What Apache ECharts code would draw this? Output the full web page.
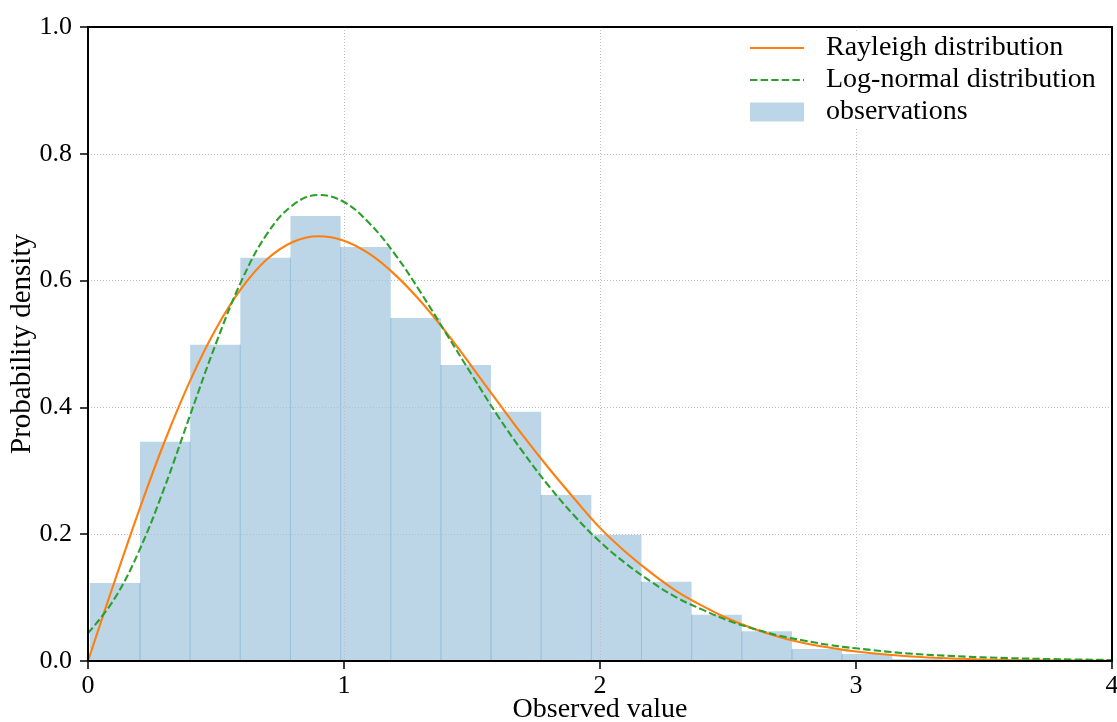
<!DOCTYPE html>
<html>
<head>
<meta charset="utf-8">
<script src="https://cdn.jsdelivr.net/npm/echarts@6/dist/echarts.min.js"></script>
<style>
html,body{margin:0;padding:0;background:#fff;}
#chart{width:1117px;height:722px;}
</style>
</head>
<body>
<div id="chart"></div>
<script>
// ---- data ----
const binEdges = [0.0072, 0.2031, 0.3990, 0.5949, 0.7908, 0.9867, 1.1826, 1.3785, 1.5744, 1.7703, 1.9662, 2.1621, 2.3580, 2.5539, 2.7498, 2.9457, 3.1416, 3.3375];
const densities = [0.123, 0.346, 0.499, 0.636, 0.702, 0.653, 0.541, 0.467, 0.393, 0.262, 0.199, 0.125, 0.073, 0.047, 0.019, 0.011, 0.003];

const curveX = [0.0,0.1,0.2,0.3,0.4,0.5,0.6,0.7,0.8,0.9,1.0,1.1,1.2,1.3,1.4,1.5,1.6,1.7,1.8,1.9,2.0,2.1,2.2,2.3,2.4,2.5,2.6,2.7,2.8,2.9,3.0,3.2,3.4,3.6,3.8,4.0];
const rayleigh = [0.000,0.121,0.238,0.347,0.443,0.524,0.588,0.634,0.661,0.670,0.663,0.642,0.609,0.567,0.518,0.464,0.409,0.355,0.304,0.256,0.210,0.172,0.139,0.110,0.087,0.067,0.051,0.038,0.028,0.021,0.015,0.0075,0.0036,0.0016,0.0007,0.0003];
const lognormal = [0.044,0.096,0.174,0.275,0.389,0.501,0.600,0.674,0.719,0.735,0.724,0.690,0.641,0.581,0.516,0.451,0.387,0.329,0.276,0.229,0.188,0.154,0.125,0.100,0.081,0.064,0.051,0.040,0.032,0.025,0.020,0.012,0.0074,0.0045,0.0027,0.0016];

const seriesNames = ['Rayleigh distribution', 'Log-normal distribution', 'observations'];
const xLabel = 'Observed value';
const yLabel = 'Probability density';

// ---- build ----
const FONT = 'Liberation Serif';
const histData = densities.map((d, i) => [binEdges[i], binEdges[i + 1], d, i > 0 ? Math.min(d, densities[i - 1]) : 0]);
const pairs = arr => curveX.map((x, i) => [x, arr[i]]);
const hiddenSymbol = {color: 'rgba(0,0,0,0)', borderColor: 'rgba(0,0,0,0)', borderWidth: 0, opacity: 0};
const gridStyle = {color: '#bdbdbd', width: 1, type: [1, 2]};
const spine = {show: true, onZero: false, lineStyle: {color: '#000', width: 2}};
const spineOnly = {axisLine: spine, axisTick: {show: false}, axisLabel: {show: false}, splitLine: {show: false}, z: 10};

const chart = echarts.init(document.getElementById('chart'), null, {renderer: 'canvas'});
chart.setOption({
  animation: false,
  backgroundColor: '#fff',
  textStyle: {fontFamily: FONT, color: '#000'},
  grid: {left: 88, right: 5, top: 27, bottom: 61, outerBoundsMode: 'none', containLabel: false, show: false},
  legend: {
    orient: 'vertical',
    left: 741, top: 31,
    padding: [3, 8, 3, 8],
    backgroundColor: '#fff',
    itemWidth: 54, itemHeight: 19, itemGap: 4,
    textStyle: {fontFamily: FONT, fontSize: 28, color: '#000', lineHeight: 28, padding: [0, 0, 0, 17]},
    data: [
      {name: seriesNames[0], itemStyle: hiddenSymbol, lineStyle: {color: '#ff7f0e', width: 2, opacity: 1}},
      {name: seriesNames[1], itemStyle: hiddenSymbol, lineStyle: {color: '#2ca02c', width: 2, opacity: 1, type: [7.4, 3.2]}},
      {name: seriesNames[2], icon: 'rect'}
    ]
  },
  xAxis: [{
    type: 'value', min: 0, max: 4, interval: 1, z: 2,
    name: xLabel, nameLocation: 'middle', nameGap: 35, nameMoveOverlap: false,
    nameTextStyle: {fontFamily: FONT, fontSize: 28, color: '#000', verticalAlign: 'top'},
    axisLine: spine,
    axisTick: {show: true, length: 8, lineStyle: {color: '#000', width: 1.5}},
    axisLabel: {fontFamily: FONT, fontSize: 26, color: '#000', margin: 12},
    splitLine: {show: true, lineStyle: gridStyle}
  }, Object.assign({type: 'value', min: 0, max: 4, interval: 1, position: 'bottom'}, spineOnly),
     Object.assign({type: 'value', min: 0, max: 4, interval: 1, position: 'top'}, spineOnly)],
  yAxis: [{
    type: 'value', min: 0, max: 1, interval: 0.2, z: 2,
    name: yLabel, nameLocation: 'middle', nameGap: 51, nameRotate: 90, nameMoveOverlap: false,
    nameTextStyle: {fontFamily: FONT, fontSize: 29, color: '#000'},
    axisLine: spine,
    axisTick: {show: true, length: 8, lineStyle: {color: '#000', width: 1.5}},
    axisLabel: {fontFamily: FONT, fontSize: 26, color: '#000', margin: 16, formatter: v => v.toFixed(1)},
    splitLine: {show: true, lineStyle: gridStyle}
  }, Object.assign({type: 'value', min: 0, max: 1, interval: 0.2, position: 'left'}, spineOnly),
     Object.assign({type: 'value', min: 0, max: 1, interval: 0.2, position: 'right'}, spineOnly)],
  series: [
    {
      name: seriesNames[2],
      type: 'custom',
      z: 1,
      itemStyle: {color: '#bcd6e8'},
      data: histData,
      renderItem: function (params, api) {
        const p0 = api.coord([api.value(0), 0]);
        const p1 = api.coord([api.value(1), api.value(2)]);
        const pl = api.coord([api.value(0), api.value(3)]);
        const children = [{
          type: 'rect',
          shape: {x: p0[0], y: p1[1], width: p1[0] - p0[0], height: p0[1] - p1[1]},
          style: {fill: '#bcd6e8'}
        }];
        if (params.dataIndex > 0) {
          children.push({
            type: 'line',
            shape: {x1: p0[0], y1: p0[1], x2: p0[0], y2: pl[1]},
            style: {stroke: 'rgba(31,119,180,0.3)', lineWidth: 1}
          });
        }
        return {type: 'group', children: children};
      }
    },
    {
      name: seriesNames[0],
      type: 'line',
      z: 3,
      data: pairs(rayleigh),
      smooth: 0.4,
      symbol: 'none', showSymbol: false,
      itemStyle: {color: '#ff7f0e'},
      lineStyle: {color: '#ff7f0e', width: 2.1}
    },
    {
      name: seriesNames[1],
      type: 'line',
      z: 4,
      data: pairs(lognormal),
      smooth: 0.4,
      symbol: 'none', showSymbol: false,
      itemStyle: {color: '#2ca02c'},
      lineStyle: {color: '#2ca02c', width: 2.1, type: [7.4, 3.2]}
    }
  ]
});
</script>
</body>
</html>
